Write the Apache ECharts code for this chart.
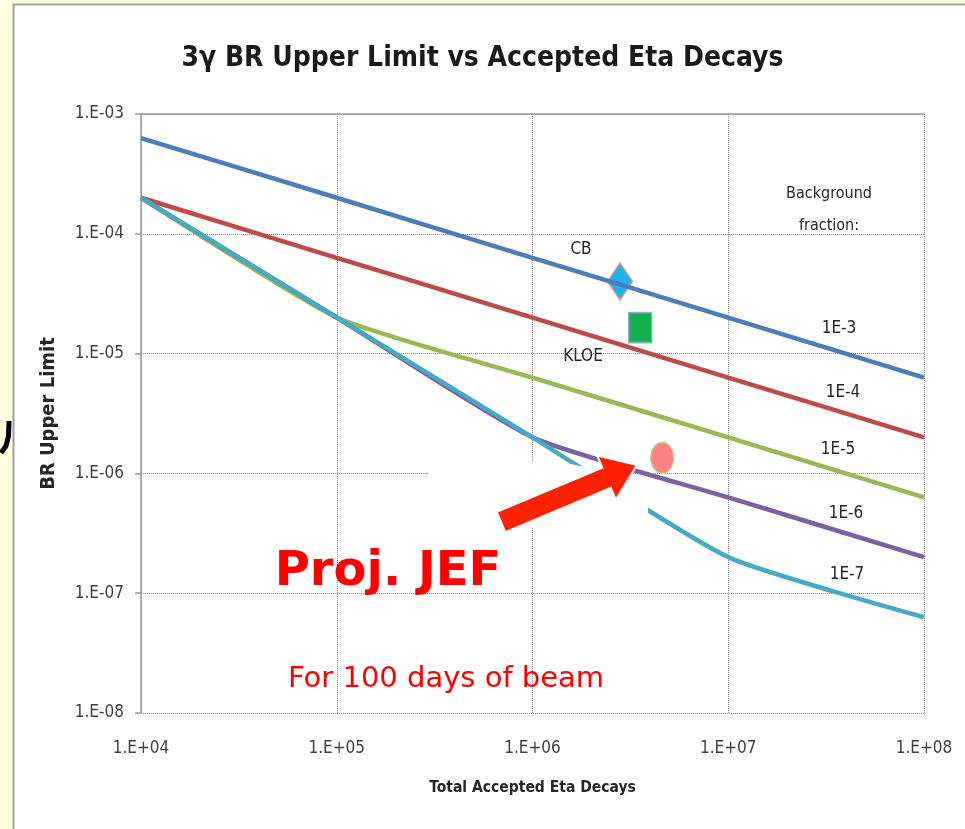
<!DOCTYPE html>
<html>
<head>
<meta charset="utf-8">
<script src="https://cdn.jsdelivr.net/npm/echarts@6/dist/echarts.min.js"></script>
<style>
  html, body { margin: 0; padding: 0; background: #FFFFE0; }
  #chart { width: 965px; height: 829px; }
</style>
</head>
<body>
<div id="chart"></div>
<script>
// Total accepted eta decays (x) and the 3γ BR upper limit for each background fraction (y)
const decays = [1e4, 1e5, 1e6, 1e7, 1e8];
const bf1e3 = [6.3e-4, 2.0e-4, 6.3e-5, 2.0e-5, 6.3e-6];
const bf1e4 = [2.0e-4, 6.3e-5, 2.0e-5, 6.3e-6, 2.0e-6];
const bf1e5 = [2.0e-4, 2.0e-5, 6.3e-6, 2.0e-6, 6.3e-7];
const bf1e6 = [2.0e-4, 2.0e-5, 2.0e-6, 6.3e-7, 2.0e-7];
const bf1e7 = [2.0e-4, 2.0e-5, 2.0e-6, 2.0e-7, 6.3e-8];
const fractionNames = ['1E-3', '1E-4', '1E-5', '1E-6', '1E-7'];

// Existing measurements and the projection
const cbPoint = [2.8e6, 4.0e-5];
const kloePoint = [3.55e6, 1.65e-5];
const jefPoint = [4.6e6, 1.35e-6];

// Tick labels
const xTickLabels = ['1.E+04', '1.E+05', '1.E+06', '1.E+07', '1.E+08'];
const yTickLabels = ['1.E-08', '1.E-07', '1.E-06', '1.E-05', '1.E-04', '1.E-03'];

const LABEL_FONT = "'DejaVu Sans Condensed', 'Liberation Sans', sans-serif";
const RED_FONT = "'DejaVu Sans', 'Noto Sans', sans-serif";
const lineColors = ['#4A7EBB', '#BE4B48', '#98B954', '#7D60A0', '#46AAC5'];
const curves = [bf1e3, bf1e4, bf1e5, bf1e6, bf1e7];

const pairs = (ys) => decays.map((x, i) => [x, ys[i]]);
const expOf = (v) => Math.round(Math.log10(v));

const chart = echarts.init(document.getElementById('chart'), null, { renderer: 'canvas' });

// all curves share one layer; the 1E-7 curve is drawn last, on top
const lineSeries = curves.map((ys, i) => ({
  name: fractionNames[i],
  type: 'line',
  data: pairs(ys),
  smooth: 0.18,
  showSymbol: false,
  symbol: 'none',
  z: 3,
  lineStyle: { color: lineColors[i], width: 4.5 },
  silent: true
}));

// Thick red arrow pointing at the projection
function arrowPoints(tail, tip, shaftW, headW, headL) {
  const dx = tip[0] - tail[0], dy = tip[1] - tail[1];
  const len = Math.hypot(dx, dy);
  const ux = dx / len, uy = dy / len, nx = -uy, ny = ux;
  const bx = tip[0] - ux * headL, by = tip[1] - uy * headL;
  const p = (x, y, s) => [x + nx * s, y + ny * s];
  return [
    p(tail[0], tail[1], shaftW / 2), p(bx, by, shaftW / 2), p(bx, by, headW / 2),
    tip,
    p(bx, by, -headW / 2), p(bx, by, -shaftW / 2), p(tail[0], tail[1], -shaftW / 2)
  ];
}

const annotation = (x, y, text, size) => ({
  type: 'text', z: 10, silent: true, x, y,
  style: { text, font: size + 'px ' + LABEL_FONT, fill: '#262626', align: 'center', verticalAlign: 'middle' }
});

const option = {
  backgroundColor: '#FFFFE0',
  animation: false,
  title: {
    text: '3γ BR Upper Limit vs Accepted Eta Decays',
    left: 'center',
    top: 40,
    textStyle: { fontFamily: LABEL_FONT, fontWeight: 'bold', fontSize: 28, color: '#1a1a1a' }
  },
  grid: { left: 141, right: 41, top: 114, bottom: 116 },
  xAxis: [{
    type: 'log',
    logBase: 10,
    min: 1e4,
    max: 1e8,
    name: 'Total Accepted Eta Decays',
    nameLocation: 'middle',
    nameGap: 67,
    nameTextStyle: { fontFamily: LABEL_FONT, fontWeight: 'bold', fontSize: 15.5, color: '#262626' },
    axisLine: { show: false },
    axisTick: { show: false },
    axisLabel: {
      margin: 27,
      fontFamily: LABEL_FONT, fontSize: 17, color: '#404040',
      formatter: (v) => xTickLabels[expOf(v) - 4]
    },
    splitLine: { show: true, lineStyle: { color: '#8c8c8c', type: 'dotted', width: 1 } }
  }, {
    type: 'log',
    logBase: 10,
    min: 1e4,
    max: 1e8,
    position: 'top',
    axisLine: { show: true, lineStyle: { color: '#9a9a9a', width: 1.5 } },
    axisTick: { show: false },
    axisLabel: { show: false },
    splitLine: { show: false }
  }],
  yAxis: {
    type: 'log',
    logBase: 10,
    min: 1e-8,
    max: 1e-3,
    name: 'BR Upper Limit',
    nameLocation: 'middle',
    nameGap: 82,
    nameTextStyle: { fontFamily: LABEL_FONT, fontWeight: 'bold', fontSize: 20, color: '#262626' },
    axisLine: { show: true, lineStyle: { color: '#9a9a9a', width: 1.5 } },
    axisTick: { show: true, inside: false, length: 6, lineStyle: { color: '#9a9a9a', width: 1.5 } },
    axisLabel: {
      margin: 17,
      fontFamily: LABEL_FONT, fontSize: 17, color: '#404040',
      formatter: (v) => yTickLabels[expOf(v) + 8]
    },
    splitLine: { show: true, lineStyle: { color: '#8c8c8c', type: 'dotted', width: 1 } }
  },
  series: [
    ...lineSeries,
    {
      name: 'CB', type: 'scatter', data: [cbPoint], z: 2,
      symbol: 'diamond', symbolSize: [25, 37],
      itemStyle: { color: '#1CB2EE', borderColor: '#E7957F', borderWidth: 1.5, opacity: 1 }
    },
    {
      name: 'KLOE', type: 'scatter', data: [kloePoint], z: 5,
      symbol: 'rect', symbolSize: [23, 30],
      itemStyle: { color: '#12B04F', borderColor: '#94A9C6', borderWidth: 1.5, opacity: 1 }
    },
    {
      name: 'Proj. JEF', type: 'scatter', data: [jefPoint], z: 5,
      symbol: 'circle', symbolSize: [23, 31],
      itemStyle: { color: '#FF8282', borderColor: '#B9D68E', borderWidth: 1.5, opacity: 1 }
    }
  ],
  graphic: [
    // white slide panel with grey frame
    { type: 'rect', z: -1, silent: true, shape: { x: 13.5, y: 4.5, width: 1000, height: 900 },
      style: { fill: '#ffffff', stroke: '#a0a0a0', lineWidth: 2 } },
    // fragment of slide lettering at the left edge
    { type: 'polyline', z: -1, silent: true, shape: { points: [[9, 421], [8.5, 436], [6, 446], [1, 453]] },
      style: { stroke: '#000', lineWidth: 5, fill: null } },
    // white patch behind the arrow, its top edge running just under the 1E-6 curve
    { type: 'polygon', z: 4, silent: true,
      shape: { points: [[428, 462], [560, 462], [648, 479], [648, 527], [428, 527]] },
      style: { fill: '#ffffff' } },
    // red arrow
    { type: 'polygon', z: 10, silent: true,
      shape: { points: arrowPoints([501, 522], [637, 465], 22, 48, 33) },
      style: { fill: '#FF2200', stroke: '#ffffff', lineWidth: 2 } },
    // annotations
    annotation(829, 194, 'Background', 16),
    annotation(829, 226, 'fraction:', 16),
    annotation(581, 250, 'CB', 17),
    annotation(583, 357, 'KLOE', 17),
    annotation(839, 329, fractionNames[0], 17),
    annotation(843, 393, fractionNames[1], 17),
    annotation(838, 450, fractionNames[2], 17),
    annotation(846, 514, fractionNames[3], 17),
    annotation(847, 575, fractionNames[4], 17),
    { type: 'text', z: 10, silent: true, x: 388, y: 573,
      style: { text: 'Proj. JEF', font: 'bold 48px ' + RED_FONT, fill: '#FF0000', align: 'center', verticalAlign: 'middle' } },
    { type: 'text', z: 10, silent: true, x: 446, y: 679,
      style: { text: 'For 100 days of beam', font: '29px ' + RED_FONT, fill: '#FF0000', align: 'center', verticalAlign: 'middle' } }
  ]
};

chart.setOption(option);
</script>
</body>
</html>
